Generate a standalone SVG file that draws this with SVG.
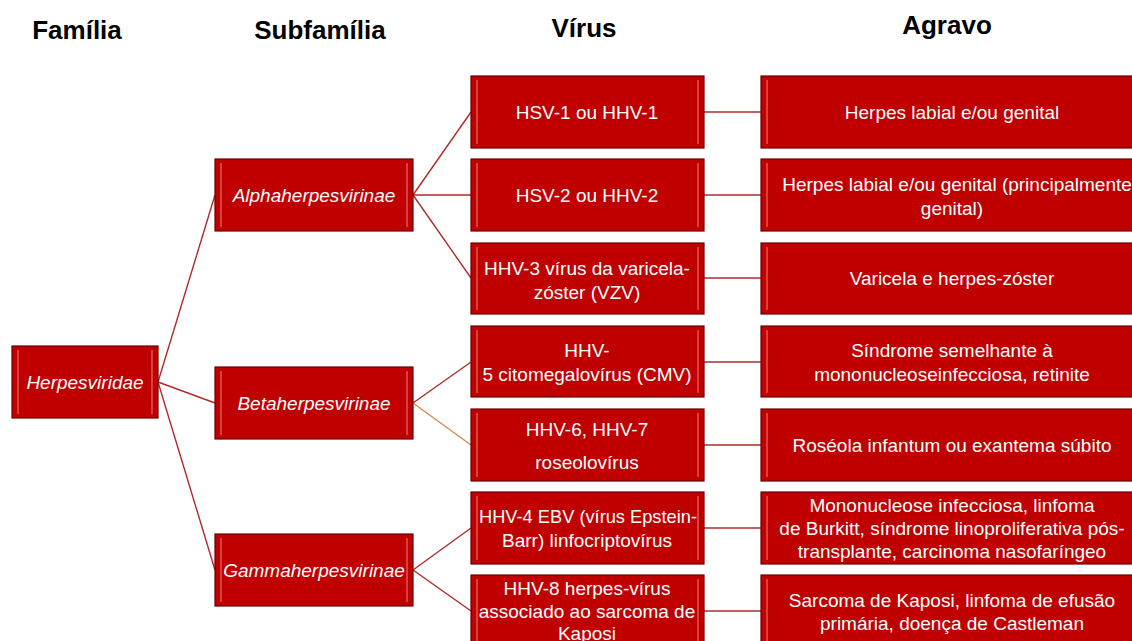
<svg xmlns="http://www.w3.org/2000/svg" width="1132" height="641" viewBox="0 0 1132 641">
<defs>
<style>
.box{fill:#C00000;stroke:#6a0000;stroke-width:1.2}
.hl{stroke:#e86a6a;stroke-width:1.5;opacity:0.8}
.t{font-family:"Liberation Sans",Arial,sans-serif;font-size:19px;fill:#fff;text-anchor:middle}
.i{font-style:italic}
.h{font-family:"Liberation Sans",Arial,sans-serif;font-size:26px;font-weight:bold;fill:#000;text-anchor:middle}
.c{stroke:#b02a2a;stroke-width:1.4;fill:none}
.co{stroke:#d08a50;stroke-width:1.4;fill:none}
</style>
</defs>
<rect width="1132" height="641" fill="#fff"/>
<g id="headers">
<text class="h" x="77" y="39">Família</text>
<text class="h" x="320" y="39">Subfamília</text>
<text class="h" x="584" y="37">Vírus</text>
<text class="h" x="947" y="34">Agravo</text>
</g>
<g id="connectors">
<line class="c" x1="158" y1="382" x2="215" y2="195"/>
<line class="c" x1="158" y1="382" x2="215" y2="403"/>
<line class="c" x1="158" y1="382" x2="215" y2="570"/>
<line class="c" x1="413" y1="195" x2="471" y2="112"/>
<line class="c" x1="413" y1="195" x2="471" y2="195"/>
<line class="c" x1="413" y1="195" x2="471" y2="278"/>
<line class="c" x1="413" y1="403" x2="471" y2="362"/>
<line class="co" x1="413" y1="403" x2="471" y2="445"/>
<line class="c" x1="413" y1="570" x2="471" y2="528"/>
<line class="c" x1="413" y1="570" x2="471" y2="611"/>
<line class="c" x1="704" y1="112" x2="761" y2="112"/>
<line class="c" x1="704" y1="195" x2="761" y2="195"/>
<line class="c" x1="704" y1="278" x2="761" y2="278"/>
<line class="c" x1="704" y1="362" x2="761" y2="362"/>
<line class="c" x1="704" y1="445" x2="761" y2="445"/>
<line class="c" x1="704" y1="528" x2="761" y2="528"/>
<line class="c" x1="704" y1="611" x2="761" y2="611"/>
</g>
<g id="herpesviridae">
<rect class="box" x="12" y="346" width="146" height="72"/>
<line class="hl" x1="18" y1="350" x2="18" y2="414"/><line class="hl" x1="152" y1="350" x2="152" y2="414"/>
<text class="t i" x="85" y="389">Herpesviridae</text>
</g>
<g id="alpha">
<rect class="box" x="215" y="159" width="198" height="72"/>
<line class="hl" x1="221" y1="163" x2="221" y2="227"/><line class="hl" x1="407" y1="163" x2="407" y2="227"/>
<text class="t i" x="314" y="202">Alphaherpesvirinae</text>
</g>
<g id="beta">
<rect class="box" x="215" y="367" width="198" height="72"/>
<line class="hl" x1="221" y1="371" x2="221" y2="435"/><line class="hl" x1="407" y1="371" x2="407" y2="435"/>
<text class="t i" x="314" y="410">Betaherpesvirinae</text>
</g>
<g id="gamma">
<rect class="box" x="215" y="534" width="198" height="72"/>
<line class="hl" x1="221" y1="538" x2="221" y2="602"/><line class="hl" x1="407" y1="538" x2="407" y2="602"/>
<text class="t i" x="314" y="577">Gammaherpesvirinae</text>
</g>
<g id="v1">
<rect class="box" x="471" y="76" width="233" height="72"/>
<line class="hl" x1="477" y1="80" x2="477" y2="144"/><line class="hl" x1="698" y1="80" x2="698" y2="144"/>
<text class="t" x="587" y="119">HSV-1 ou HHV-1</text>
</g>
<g id="v2">
<rect class="box" x="471" y="159" width="233" height="72"/>
<line class="hl" x1="477" y1="163" x2="477" y2="227"/><line class="hl" x1="698" y1="163" x2="698" y2="227"/>
<text class="t" x="587" y="202">HSV-2 ou HHV-2</text>
</g>
<g id="v3">
<rect class="box" x="471" y="243" width="233" height="71"/>
<line class="hl" x1="477" y1="247" x2="477" y2="310"/><line class="hl" x1="698" y1="247" x2="698" y2="310"/>
<text class="t" x="587" y="275">HHV-3 vírus da varicela-</text>
<text class="t" x="587" y="299">zóster (VZV)</text>
</g>
<g id="v4">
<rect class="box" x="471" y="326" width="233" height="71"/>
<line class="hl" x1="477" y1="330" x2="477" y2="393"/><line class="hl" x1="698" y1="330" x2="698" y2="393"/>
<text class="t" x="587" y="357">HHV-</text>
<text class="t" x="587" y="381">5 citomegalovírus (CMV)</text>
</g>
<g id="v5">
<rect class="box" x="471" y="409" width="233" height="72"/>
<line class="hl" x1="477" y1="413" x2="477" y2="477"/><line class="hl" x1="698" y1="413" x2="698" y2="477"/>
<text class="t" x="587" y="436">HHV-6, HHV-7</text>
<text class="t" x="587" y="469">roseolovírus</text>
</g>
<g id="v6">
<rect class="box" x="471" y="492" width="233" height="72"/>
<line class="hl" x1="477" y1="496" x2="477" y2="560"/><line class="hl" x1="698" y1="496" x2="698" y2="560"/>
<text class="t" x="588" y="523" textLength="218" lengthAdjust="spacingAndGlyphs">HHV-4 EBV (vírus Epstein-</text>
<text class="t" x="587" y="547">Barr) linfocriptovírus</text>
</g>
<g id="v7">
<rect class="box" x="471" y="575" width="233" height="72"/>
<line class="hl" x1="477" y1="579" x2="477" y2="643"/><line class="hl" x1="698" y1="579" x2="698" y2="643"/>
<text class="t" x="587" y="595">HHV-8 herpes-vírus</text>
<text class="t" x="587" y="618">associado ao sarcoma de</text>
<text class="t" x="587" y="640">Kaposi</text>
</g>
<g id="a1">
<rect class="box" x="761" y="76" width="380" height="72"/>
<line class="hl" x1="767" y1="80" x2="767" y2="144"/>
<text class="t" x="952" y="119">Herpes labial e/ou genital</text>
</g>
<g id="a2">
<rect class="box" x="761" y="159" width="380" height="72"/>
<line class="hl" x1="767" y1="163" x2="767" y2="227"/>
<text class="t" x="957" y="191">Herpes labial  e/ou genital (principalmente</text>
<text class="t" x="952" y="215">genital)</text>
</g>
<g id="a3">
<rect class="box" x="761" y="243" width="380" height="71"/>
<line class="hl" x1="767" y1="247" x2="767" y2="310"/>
<text class="t" x="952" y="285">Varicela e herpes-zóster</text>
</g>
<g id="a4">
<rect class="box" x="761" y="326" width="380" height="71"/>
<line class="hl" x1="767" y1="330" x2="767" y2="393"/>
<text class="t" x="952" y="357">Síndrome semelhante à</text>
<text class="t" x="952" y="381">mononucleoseinfecciosa, retinite</text>
</g>
<g id="a5">
<rect class="box" x="761" y="409" width="380" height="72"/>
<line class="hl" x1="767" y1="413" x2="767" y2="477"/>
<text class="t" x="952" y="452">Roséola infantum ou exantema súbito</text>
</g>
<g id="a6">
<rect class="box" x="761" y="492" width="380" height="72"/>
<line class="hl" x1="767" y1="496" x2="767" y2="560"/>
<text class="t" x="952" y="512">Mononucleose infecciosa, linfoma</text>
<text class="t" x="952" y="535">de Burkitt, síndrome linoproliferativa pós-</text>
<text class="t" x="952" y="558">transplante, carcinoma nasofaríngeo</text>
</g>
<g id="a7">
<rect class="box" x="761" y="575" width="380" height="72"/>
<line class="hl" x1="767" y1="579" x2="767" y2="643"/>
<text class="t" x="952" y="607">Sarcoma de Kaposi, linfoma de efusão</text>
<text class="t" x="952" y="630">primária, doença de Castleman</text>
</g>
</svg>
